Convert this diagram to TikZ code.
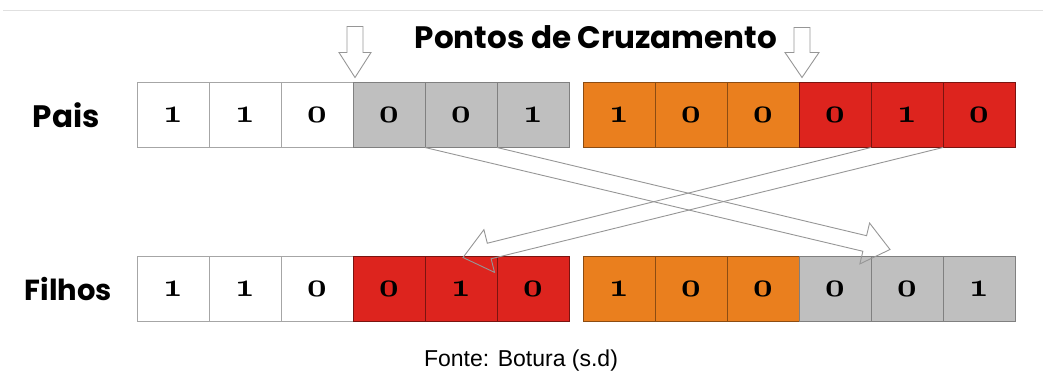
\RequirePackage{fix-cm}
\documentclass[tikz,border=0pt]{standalone}
\usepackage{fontspec}
\usetikzlibrary{positioning,calc}
\newfontfamily\titlefont{Poppins}
\newfontfamily\fontefont{Liberation Sans}
\definecolor{cellgray}{RGB}{191,191,191}
\definecolor{cellorange}{RGB}{234,127,30}
\definecolor{cellred}{RGB}{221,36,30}
\definecolor{arrowgray}{RGB}{150,150,150}

\begin{document}
\begin{tikzpicture}[x=1pt,y=-1pt,
    cell/.style={rectangle,draw,inner sep=0pt,outer sep=0pt,
      minimum width=72pt,minimum height=65pt,line width=1pt,
      font=\fontsize{34}{34}\usefont{OML}{cmm}{b}{it}},
    white cell/.style={cell,fill=white,draw=gray!70},
    gray cell/.style={cell,fill=cellgray,draw=gray},
    orange cell/.style={cell,fill=cellorange,draw=cellorange!60!black},
    red cell/.style={cell,fill=cellred,draw=cellred!55!black},
    label/.style={inner sep=0pt,font=\titlefont\bfseries\fontsize{31}{31}\selectfont},
    cross/.style={draw=arrowgray,line width=0.9pt,line join=miter}]
    \useasboundingbox (0,0) rectangle (1043,372);
    \draw[black!12,line width=1pt] (3,10) -- (1043,10);

    % pais
    \node[white cell] (p1) at (173,115) {1};
    \node[white cell] (p2) [right=0pt of p1] {1};
    \node[white cell] (p3) [right=0pt of p2] {0};
    \node[gray cell] (p4) [right=0pt of p3] {0};
    \node[gray cell] (p5) [right=0pt of p4] {0};
    \node[gray cell] (p6) [right=0pt of p5] {1};
    \node[orange cell] (p7) [right=14pt of p6] {1};
    \node[orange cell] (p8) [right=0pt of p7] {0};
    \node[orange cell] (p9) [right=0pt of p8] {0};
    \node[red cell] (p10) [right=0pt of p9] {0};
    \node[red cell] (p11) [right=0pt of p10] {1};
    \node[red cell] (p12) [right=0pt of p11] {0};

    % filhos
    \node[white cell] (f1) at (173,289) {1};
    \node[white cell] (f2) [right=0pt of f1] {1};
    \node[white cell] (f3) [right=0pt of f2] {0};
    \node[red cell] (f4) [right=0pt of f3] {0};
    \node[red cell] (f5) [right=0pt of f4] {1};
    \node[red cell] (f6) [right=0pt of f5] {0};
    \node[orange cell] (f7) [right=14pt of f6] {1};
    \node[orange cell] (f8) [right=0pt of f7] {0};
    \node[orange cell] (f9) [right=0pt of f8] {0};
    \node[gray cell] (f10) [right=0pt of f9] {0};
    \node[gray cell] (f11) [right=0pt of f10] {0};
    \node[gray cell] (f12) [right=0pt of f11] {1};

    \node[label] (pais) [left=37pt of p1] {Pais};
    \node[label,font=\titlefont\bfseries\fontsize{29}{29}\selectfont] (filhos)
      [left=25pt of f1] {Filhos};
    \node[label,anchor=base] (titulo) at (596,48) {Pontos de Cruzamento};
    \node[anchor=base,inner sep=0pt,font=\fontefont\fontsize{23}{23}\selectfont]
      (fonte) at (521,366) {Fonte: Botura (s.d)};

    % pontos de corte
    \coordinate (c1) at ($(p3.north east)+(2,-5)$);
    \coordinate (c2) at ($(p9.north east)+(3,-5)$);
    \draw[cross] (c1) -- ++(-16,-25) -- ++(8,0) -- ++(0,-26) -- ++(16,0)
      -- ++(0,26) -- ++(8,0) -- cycle;
    \draw[cross] (c2) -- ++(-17,-25) -- ++(9,0) -- ++(0,-25) -- ++(16,0)
      -- ++(0,25) -- ++(9,0) -- cycle;

    % troca das partes
    \coordinate (tA) at ($(f11.north west)+(19,-7)$);
    \coordinate (hA) at ($(tA)!26pt!(p5.south)$);
    \coordinate (tB) at ($(f5.north)+(2,1)$);
    \coordinate (hB) at ($(tB)!27pt!(p11.south)$);
    \draw[cross] (p5.south west) -- ($(hA)!8pt!-90:(tA)$)
      -- ($(hA)!21pt!-90:(tA)$) -- (tA) -- ($(hA)!21pt!90:(tA)$)
      -- ($(hA)!8pt!90:(tA)$) -- (p5.south east);
    \draw[cross] (p11.south west) -- ($(hB)!8pt!-90:(tB)$)
      -- ($(hB)!22pt!-90:(tB)$) -- (tB) -- ($(hB)!22pt!90:(tB)$)
      -- ($(hB)!8pt!90:(tB)$) -- (p11.south east);
\end{tikzpicture}
\end{document}
